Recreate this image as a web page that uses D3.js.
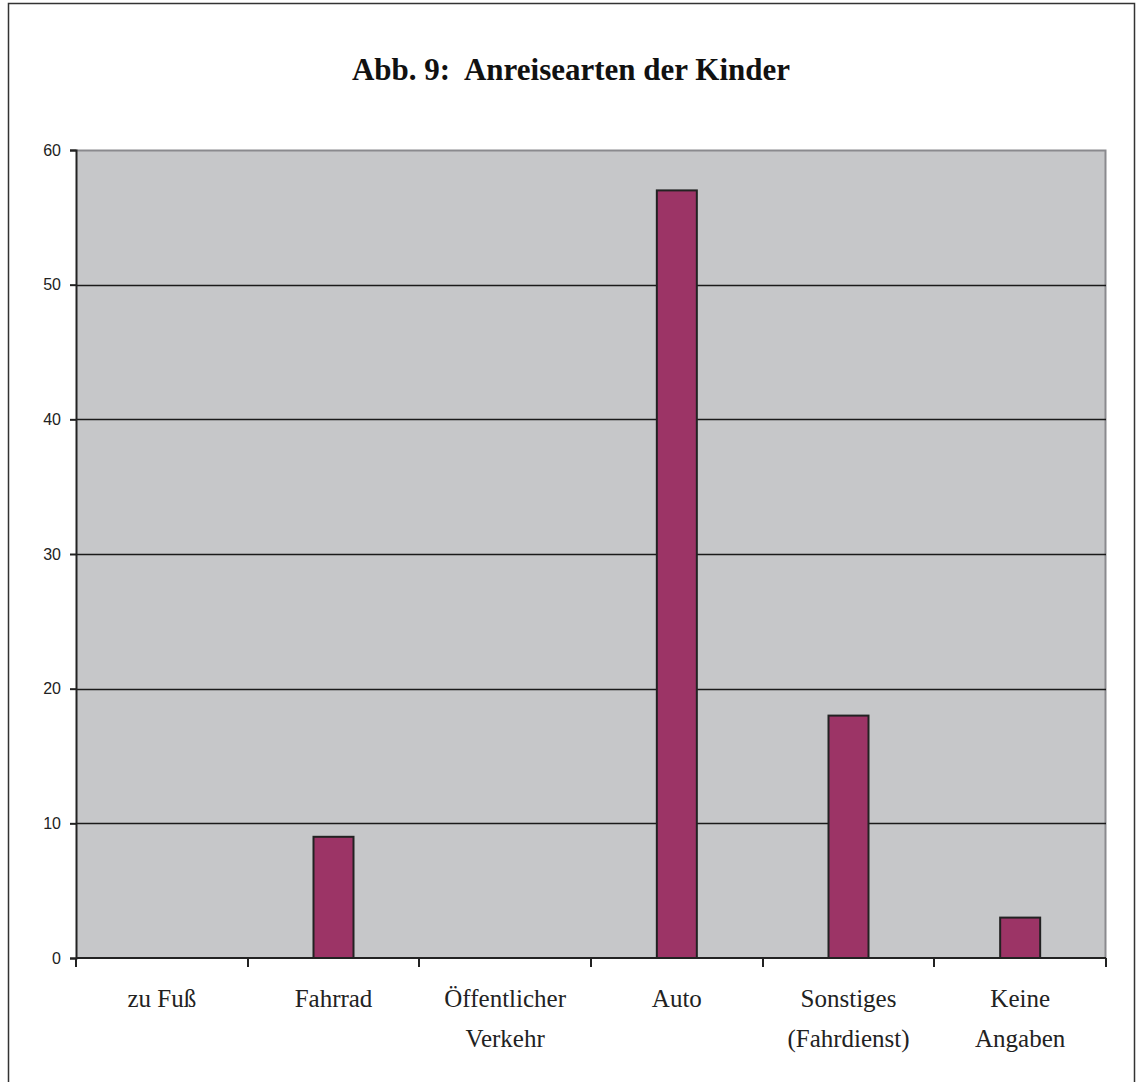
<!DOCTYPE html>
<html>
<head>
<meta charset="utf-8">
<script src="https://cdn.jsdelivr.net/npm/d3@7"></script>
<style>
  html, body { margin: 0; padding: 0; background: #fff; }
  svg { display: block; }
</style>
</head>
<body>
<svg id="chart" width="1136" height="1082"></svg>
<script>
// Anreisearten der Kinder – Anzahl je Kategorie
const categories = [
  ["zu Fuß"],
  ["Fahrrad"],
  ["Öffentlicher", "Verkehr"],
  ["Auto"],
  ["Sonstiges", "(Fahrdienst)"],
  ["Keine", "Angaben"]
];
const values = [0, 9, 0, 57, 18, 3];
const yTicks = [0, 10, 20, 30, 40, 50, 60];
const title = "Abb. 9:  Anreisearten der Kinder";

const svg = d3.select("#chart");
const plot = { left: 76, right: 1106, top: 150, bottom: 958 };

// outer frame
svg.append("rect")
  .attr("x", 8.5).attr("y", 3.5)
  .attr("width", 1126).attr("height", 1100)
  .attr("fill", "#fff").attr("stroke", "#333").attr("stroke-width", 1.5);

svg.append("text")
  .attr("x", 571).attr("y", 80)
  .attr("text-anchor", "middle")
  .style("white-space", "pre")
  .attr("font-family", "'Liberation Serif', 'Times New Roman', serif")
  .attr("font-weight", "bold")
  .attr("font-size", 31)
  .attr("fill", "#111")
  .text(title);

const idx = d3.range(categories.length);
const x = d3.scaleBand().domain(idx).range([plot.left, plot.right]).paddingInner(0).paddingOuter(0);
const y = d3.scaleLinear().domain([0, 60]).range([plot.bottom, plot.top]);

// plot background
svg.append("rect")
  .attr("x", plot.left).attr("y", plot.top)
  .attr("width", plot.right - plot.left).attr("height", plot.bottom - plot.top)
  .attr("fill", "#c6c7c9");

// top and right plot border
svg.append("path")
  .attr("d", `M${plot.left},${plot.top + 0.5}H${plot.right - 0.5}V${plot.bottom}`)
  .attr("fill", "none").attr("stroke", "#8a8a8e").attr("stroke-width", 2);

// gridlines
svg.append("g").selectAll("line")
  .data(yTicks.filter(t => t > 0 && t < 60))
  .join("line")
  .attr("x1", plot.left).attr("x2", plot.right)
  .attr("y1", d => Math.round(y(d)) + 0.5).attr("y2", d => Math.round(y(d)) + 0.5)
  .attr("stroke", "#1a1a1a").attr("stroke-width", 1.5);

// bars
const barW = 40;
svg.append("g").selectAll("rect")
  .data(values.map((v, i) => ({ v, i })).filter(d => d.v > 0))
  .join("rect")
  .attr("x", d => x(d.i) + x.bandwidth() / 2 - barW / 2)
  .attr("y", d => y(d.v))
  .attr("width", barW)
  .attr("height", d => y(0) - y(d.v))
  .attr("fill", "#9c3466")
  .attr("stroke", "#222").attr("stroke-width", 2);

// y axis
const yAxis = svg.append("g")
  .attr("transform", `translate(${plot.left},0)`)
  .call(d3.axisLeft(y).tickValues(yTicks).tickSize(6).tickPadding(9).tickFormat(d3.format("d")));
yAxis.select(".domain").attr("stroke", "#222").attr("stroke-width", 2);
yAxis.selectAll(".tick line").attr("stroke", "#222").attr("stroke-width", 2);
yAxis.selectAll("text")
  .attr("font-family", "'Liberation Sans', Arial, sans-serif")
  .attr("font-size", 16).attr("fill", "#222");

// x axis: ticks at category boundaries
const boundaries = idx.map(i => x(i)).concat([plot.right]);
const xg = svg.append("g");
xg.append("line")
  .attr("x1", plot.left).attr("x2", plot.right)
  .attr("y1", plot.bottom).attr("y2", plot.bottom)
  .attr("stroke", "#222").attr("stroke-width", 2);
xg.selectAll("line.tk")
  .data(boundaries)
  .join("line").attr("class", "tk")
  .attr("x1", d => Math.round(d)).attr("x2", d => Math.round(d))
  .attr("y1", plot.bottom).attr("y2", plot.bottom + 9)
  .attr("stroke", "#222").attr("stroke-width", 2);

// category labels
const labels = xg.selectAll("text.cat")
  .data(categories)
  .join("text").attr("class", "cat")
  .attr("text-anchor", "middle")
  .attr("font-family", "'Liberation Serif', 'Times New Roman', serif")
  .attr("font-size", 25)
  .attr("fill", "#222")
  .attr("transform", (d, i) => `translate(${x(i) + x.bandwidth() / 2},1007)`);
labels.selectAll("tspan")
  .data(d => d)
  .join("tspan")
  .attr("x", 0)
  .attr("y", (d, j) => j * 40)
  .text(d => d);
</script>
</body>
</html>
